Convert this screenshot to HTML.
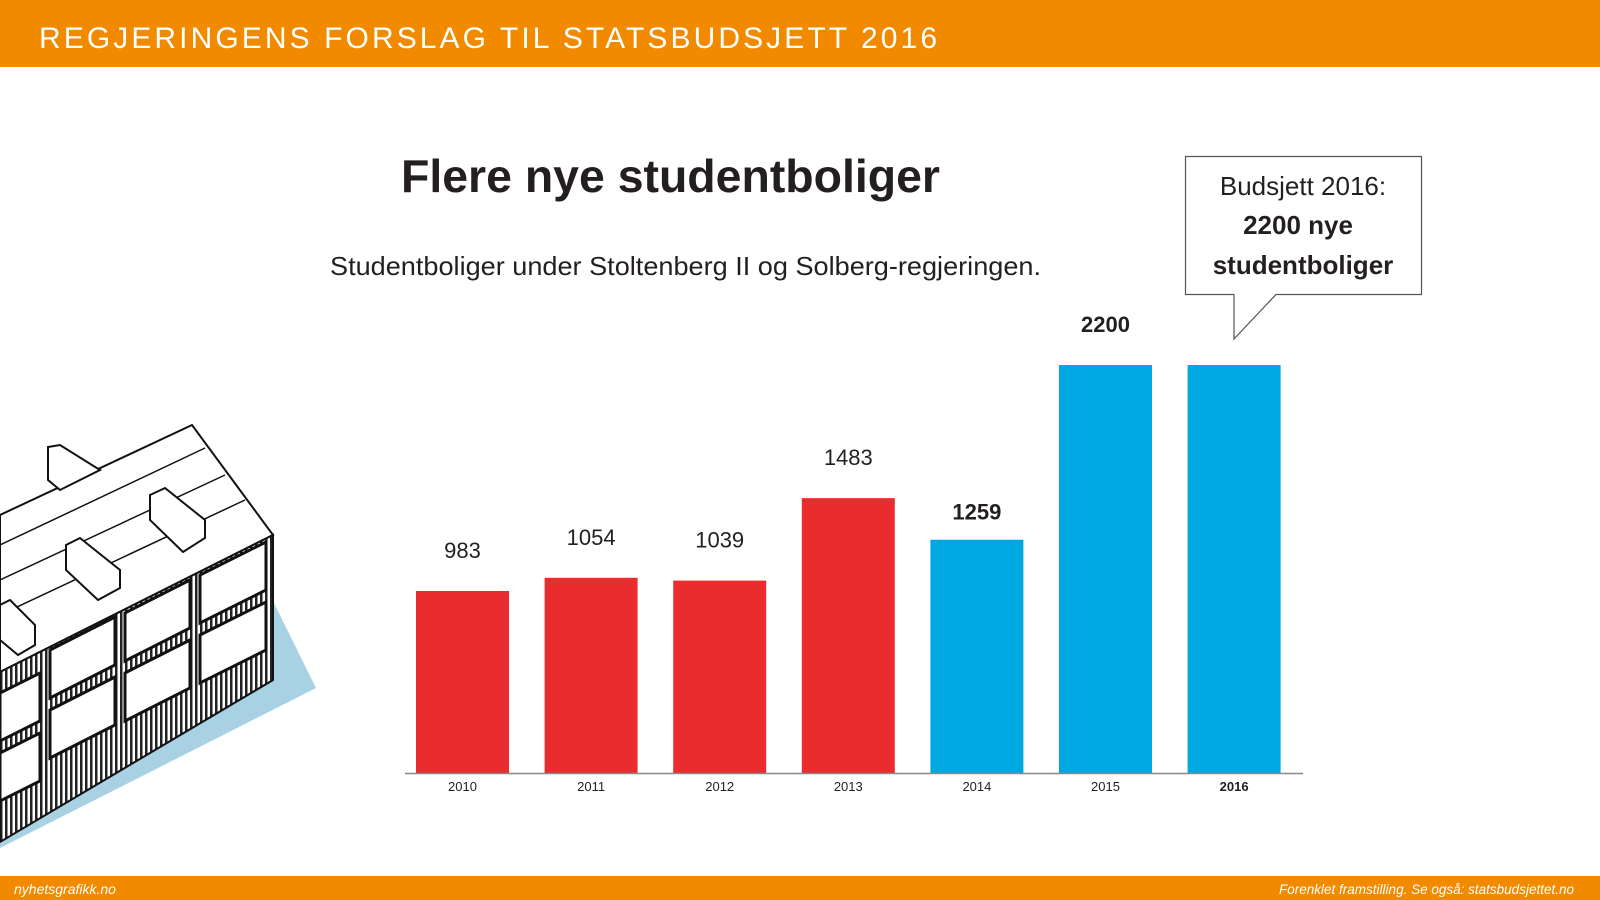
<!DOCTYPE html>
<html><head><meta charset="utf-8"><style>
html,body{margin:0;padding:0;background:#fff;}
svg{display:block;font-family:"Liberation Sans",sans-serif;}
</style></head><body>
<svg id="chart" width="1600" height="900" viewBox="0 0 1600 900" xmlns="http://www.w3.org/2000/svg">
<defs>
<pattern id="stripes" width="5" height="10" patternUnits="userSpaceOnUse"><rect width="5" height="10" fill="#fff"/><rect width="2.5" height="10" fill="#222"/></pattern>
</defs>
<rect x="0" y="0" width="1600" height="67" fill="#f28a00"/>
<text x="39" y="48" font-size="30" fill="#fff" textLength="898" lengthAdjust="spacing">REGJERINGENS FORSLAG TIL STATSBUDSJETT 2016</text>
<text x="401" y="192" font-size="46" font-weight="bold" fill="#231f20" textLength="539" lengthAdjust="spacingAndGlyphs">Flere nye studentboliger</text>
<text x="330" y="275" font-size="26" fill="#231f20" textLength="711" lengthAdjust="spacingAndGlyphs">Studentboliger under Stoltenberg II og Solberg-regjeringen.</text>
<g>
<path d="M1185.5 156.5 H1421.5 V294.5 H1276 L1234 339 V294.5 H1185.5 Z" fill="#fff" stroke="#555" stroke-width="1.2"/>
<text x="1303" y="195" font-size="26" fill="#231f20" text-anchor="middle">Budsjett 2016:</text>
<text x="1298" y="234" font-size="26" font-weight="bold" fill="#231f20" text-anchor="middle">2200 nye</text>
<text x="1303" y="274" font-size="26" font-weight="bold" fill="#231f20" text-anchor="middle">studentboliger</text>
</g>
<g id="building">
<polygon points="270,595 316,688 0,848 0,800" fill="#a9d1e4"/>
<polygon points="0,515 192,425 273,535 0,672" fill="#fff" stroke="#111" stroke-width="2"/>
<g stroke="#111" stroke-width="1.5">
<line x1="0" y1="545" x2="205" y2="448"/><line x1="0" y1="580" x2="225" y2="475"/><line x1="0" y1="615" x2="245" y2="500"/>
</g>
<polygon points="0,672 273,535 273,680 0,842" fill="url(#stripes)" stroke="#111" stroke-width="2"/>
<g fill="#fff" stroke="#111" stroke-width="3">
<polygon points="200,575 266,542 266,590 200,623"/>
<polygon points="200,635 266,602 266,650 200,683"/>
<polygon points="125,613 190,580 190,628 125,661"/>
<polygon points="125,673 190,640 190,688 125,721"/>
<polygon points="50,650 115,617 115,665 50,698"/>
<polygon points="50,710 115,677 115,725 50,758"/>
<polygon points="0,693 40,673 40,721 0,741"/>
<polygon points="0,753 40,733 40,781 0,801"/>
</g>
<g fill="#fff" stroke="#111" stroke-width="2">
<polygon points="150,495 165,488 205,520 205,538 183,552 150,520"/>
<polygon points="66,545 80,538 120,570 120,588 98,600 66,570"/>
<polygon points="48,447 60,445 100,470 60,490 48,480"/>
<polygon points="0,605 10,600 35,625 35,645 18,655 0,640"/>
</g>
</g>
<g id="bars"></g>
<line x1="405" y1="773.5" x2="1303" y2="773.5" stroke="#888" stroke-width="1.5"/>
<rect x="0" y="876" width="1600" height="24" fill="#f28a00"/>
<text x="14" y="894" font-size="14" font-style="italic" fill="#fff">nyhetsgrafikk.no</text>
<text x="1279" y="894" font-size="14" font-style="italic" fill="#fff" textLength="295" lengthAdjust="spacingAndGlyphs">Forenklet framstilling. Se også: statsbudsjettet.no</text>
</svg>
<script>
const years = ["2010","2011","2012","2013","2014","2015","2016"];
const values = [983,1054,1039,1483,1259,2200,2200];
const valueLabels = ["983","1054","1039","1483","1259","2200",""];
const govt = ["red","red","red","red","blue","blue","blue"];
const boldLabel = [false,false,false,false,true,true,false];
const boldYear = [false,false,false,false,false,false,true];

const NS = "http://www.w3.org/2000/svg";
const x0 = 416, step = 128.6, barW = 93, baseY = 773.5, kPx = 408.5/2200;
function xScale(i){ return x0 + i*step; }
function yScale(v){ return baseY - v*kPx; }
const g = document.getElementById('bars');
years.forEach((yr,i)=>{
  const r = document.createElementNS(NS,'rect');
  
  
  r.setAttribute('x', xScale(i));
  r.setAttribute('y', yScale(values[i]));
  r.setAttribute('width', barW);
  r.setAttribute('height', baseY - yScale(values[i]));
  r.setAttribute('fill', govt[i]==='red' ? '#e92d2f' : '#00a8e1');
  g.appendChild(r);
  if (valueLabels[i]) {
    const t = document.createElementNS(NS,'text');
    
    
    t.setAttribute('x', xScale(i) + barW/2);
    t.setAttribute('y', yScale(values[i]) - (yr === "2014" ? 20 : 33));
    t.setAttribute('text-anchor','middle');
    t.setAttribute('font-size','22');
    t.setAttribute('fill','#231f20');
    if (boldLabel[i]) t.setAttribute('font-weight','bold');
    t.textContent = valueLabels[i];
    g.appendChild(t);
  }
  const yl = document.createElementNS(NS,'text');
  
  
  yl.setAttribute('x', xScale(i) + barW/2);
  yl.setAttribute('y', 791);
  yl.setAttribute('text-anchor','middle');
  yl.setAttribute('font-size','13');
  yl.setAttribute('fill','#231f20');
  if (boldYear[i]) yl.setAttribute('font-weight','bold');
  yl.textContent = yr;
  g.appendChild(yl);
});
</script>
</body></html>
